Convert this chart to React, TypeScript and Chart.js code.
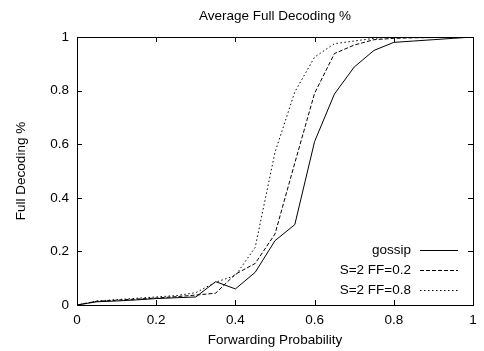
import React, { useEffect, useRef } from "react";
import { Chart, registerables } from "chart.js";

Chart.register(...registerables);

const xValues = [0, 0.05, 0.1, 0.15, 0.2, 0.25, 0.3, 0.35, 0.4, 0.45, 0.5, 0.55, 0.6, 0.65, 0.7, 0.75, 0.8, 0.85, 0.9, 0.95, 1];
const gossip = [0, 0.012, 0.015, 0.019, 0.024, 0.027, 0.03, 0.087, 0.06, 0.122, 0.24, 0.3, 0.61, 0.787, 0.888, 0.95, 0.98, 0.985, 0.99, 0.995, 1];
const ff02 = [0, 0.014, 0.018, 0.022, 0.026, 0.031, 0.037, 0.044, 0.115, 0.155, 0.265, 0.53, 0.79, 0.938, 0.97, 0.99, 0.995, 0.997, 0.998, 0.999, 1];
const ff08 = [0, 0.015, 0.02, 0.025, 0.03, 0.035, 0.046, 0.085, 0.11, 0.215, 0.57, 0.795, 0.925, 0.975, 0.985, 0.995, 1, 1, 1, 1, 1];
const seriesLabels = ["gossip", "S=2 FF=0.2", "S=2 FF=0.8"];
const tickValues = [0, 0.2, 0.4, 0.6, 0.8, 1];
const chartTitle = "Average Full Decoding %";

const FONT = '"Liberation Sans", Arial, sans-serif';
const FS = 13.5;

const framePlugin = {
  id: "gnuFrame",
  afterDraw(chart: any) {
    const { ctx, chartArea } = chart;
    const { left, right, top, bottom } = chartArea;
    const xs = chart.scales.x;
    const ys = chart.scales.y;
    const len = 5;
    ctx.save();
    ctx.strokeStyle = "#000";
    ctx.lineWidth = 1;
    ctx.beginPath();
    tickValues.forEach((v) => {
      const px = Math.round(xs.getPixelForValue(v)) + 0.5;
      ctx.moveTo(px, bottom);
      ctx.lineTo(px, bottom - len);
      ctx.moveTo(px, top);
      ctx.lineTo(px, top + len);
      const py = Math.round(ys.getPixelForValue(v)) + 0.5;
      ctx.moveTo(left, py);
      ctx.lineTo(left + len, py);
      ctx.moveTo(right, py);
      ctx.lineTo(right - len, py);
    });
    ctx.stroke();
    ctx.strokeRect(Math.round(left) + 0.5, Math.round(top) + 0.5, Math.round(right - left), Math.round(bottom - top));
    ctx.font = `${FS}px ${FONT}`;
    ctx.fillStyle = "#000";
    ctx.textBaseline = "middle";
    // title centred over the plot area
    ctx.textAlign = "center";
    ctx.fillText(chartTitle, (left + right) / 2, 16);
    // legend
    ctx.textAlign = "right";
    chart.data.datasets.forEach((ds: any, i: number) => {
      const y = bottom - 55 + i * 20;
      ctx.fillText(ds.label, right - 62, y);
      ctx.beginPath();
      ctx.setLineDash(ds.borderDash || []);
      ctx.moveTo(right - 53, y + 0.5);
      ctx.lineTo(right - 15, y + 0.5);
      ctx.stroke();
      ctx.setLineDash([]);
    });
    ctx.restore();
  },
};

function fmt(v: number) {
  return String(Math.round(v * 10) / 10);
}

export default function App() {
  const ref = useRef<HTMLCanvasElement>(null);
  useEffect(() => {
    if (!ref.current) return;
    const mk = (arr: number[]) => arr.map((y, i) => ({ x: xValues[i], y }));
    const dashes = [[], [4, 2], [1.5, 2.5]];
    const chart = new Chart(ref.current, {
      type: "line",
      data: {
        datasets: [gossip, ff02, ff08].map((arr, i) => ({
          label: seriesLabels[i],
          data: mk(arr),
          borderColor: "#000",
          borderWidth: 1,
          borderDash: dashes[i],
          pointRadius: 0,
          tension: 0,
          fill: false,
        })),
      },
      options: {
        responsive: false,
        animation: false,
        events: [],
        layout: { padding: { left: 0, right: 11, top: 37, bottom: 0 } },
        plugins: {
          legend: { display: false },
          tooltip: { enabled: false },
          title: { display: false },
        },
        scales: {
          x: {
            type: "linear",
            min: 0,
            max: 1,
            afterFit(s: any) { s.height = 46; },
            afterBuildTicks(s: any) { s.ticks = tickValues.map((v) => ({ value: v })); },
            grid: { display: false, drawTicks: false },
            border: { display: false },
            ticks: { padding: 7, color: "#000", font: { family: FONT, size: FS }, callback: (v: any) => fmt(Number(v)), maxRotation: 0 },
            title: { display: true, text: "Forwarding Probability", color: "#000", font: { family: FONT, size: FS }, padding: { top: 0, bottom: 3 } },
          },
          y: {
            type: "linear",
            min: 0,
            max: 1,
            afterFit(s: any) { s.width = 77; },
            afterBuildTicks(s: any) { s.ticks = tickValues.map((v) => ({ value: v })); },
            grid: { display: false, drawTicks: false },
            border: { display: false },
            ticks: { padding: 8, color: "#000", font: { family: FONT, size: FS }, callback: (v: any) => fmt(Number(v)) },
            title: { display: true, text: "Full Decoding %", color: "#000", font: { family: FONT, size: FS }, padding: { top: 13, bottom: 0 } },
          },
        },
      } as any,
      plugins: [framePlugin],
    });
    return () => chart.destroy();
  }, []);
  return (
    <div style={{ position: "fixed", left: 0, top: 0, width: 484, height: 351, background: "#fff" }}>
      <canvas ref={ref} width={484} height={351} style={{ width: 484, height: 351 }} />
    </div>
  );
}
